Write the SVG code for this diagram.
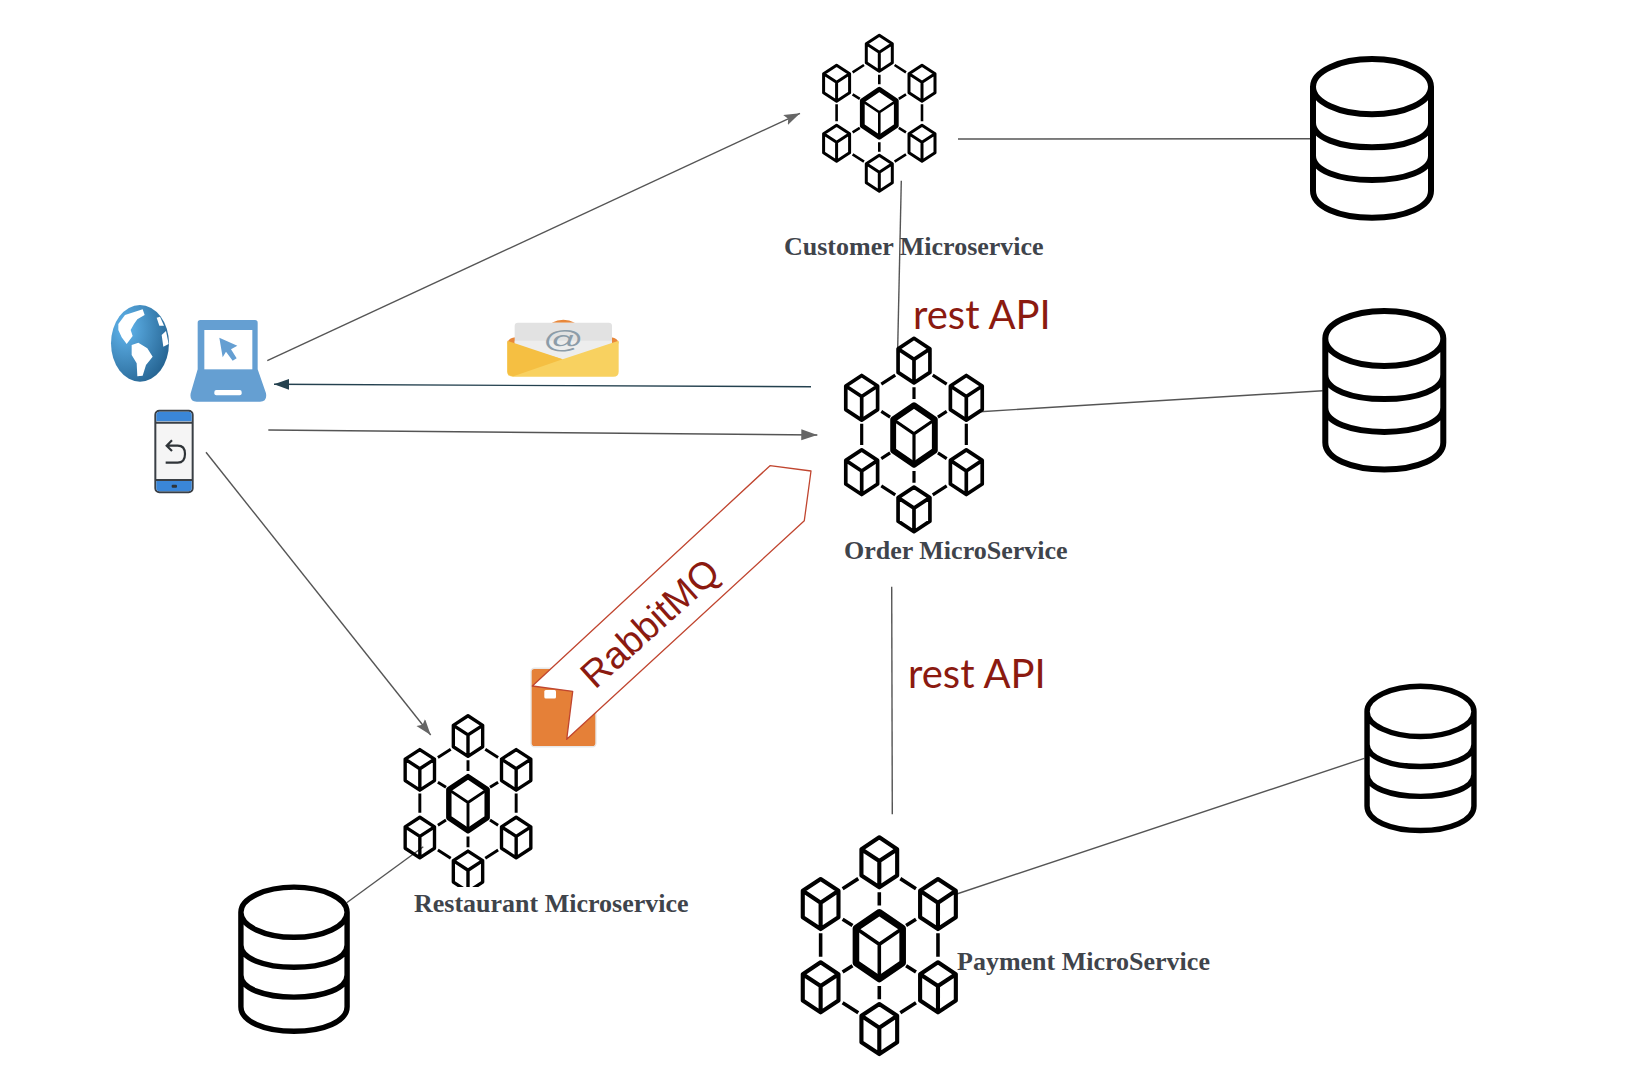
<svg xmlns="http://www.w3.org/2000/svg" width="1648" height="1070" viewBox="0 0 1648 1070">
<style>
.cube{fill:none;stroke:#000;stroke-width:3;stroke-linejoin:round}
.lnk{fill:none;stroke:#000;stroke-width:2.6}
.db{fill:none;stroke:#000;stroke-width:6}
.c{fill:none;stroke:#555;stroke-width:1.4}
.lab{font-family:"Liberation Serif","Times New Roman",serif;font-weight:700;fill:#3f444b}
.api{font-family:Lato,"Open Sans",sans-serif;fill:#8b1a10}
</style>
<defs>
<radialGradient id="gl" cx="0.25" cy="0.3" r="0.85"><stop offset="0" stop-color="#62b6ee"/><stop offset="1" stop-color="#23618f"/></radialGradient>
<marker id="aG" markerUnits="userSpaceOnUse" markerWidth="17" markerHeight="12" refX="16" refY="5.5" orient="auto"><path d="M0 0L16 5.5L0 11z" fill="#666"/></marker>
<marker id="aN" markerUnits="userSpaceOnUse" markerWidth="17" markerHeight="12" refX="16" refY="5.5" orient="auto"><path d="M0 0L16 5.5L0 11L3 5.5z" fill="#666"/></marker>
<marker id="aD" markerUnits="userSpaceOnUse" markerWidth="17" markerHeight="12" refX="15" refY="5.5" orient="auto"><path d="M0 0L15 5.5L0 11z" fill="#24414f"/></marker>
<g id="cube"><path class="cube" d="M0-18L13-9.5V9.5L0 18L-13 9.5V-9.5zM-13-9.5L0-1L13-9.5M0-1V18"/></g>
<g id="ms">
<use href="#cube" y="-60"/><use href="#cube" y="60"/>
<use href="#cube" x="-42.7" y="-30"/><use href="#cube" x="42.7" y="-30"/>
<use href="#cube" x="-42.7" y="30"/><use href="#cube" x="42.7" y="30"/>
<path d="M0-24L17-12.5V12.5L0 24L-17 12.5V-12.5z" fill="none" stroke="#000" stroke-width="4.8" stroke-linejoin="round"/>
<path d="M-17-12.5L0-1L17-12.5M0-1V24" fill="none" stroke="#000" stroke-width="2.6"/>
<path class="lnk" d="M-26.7-41L-15.3-48.3M26.7-41L15.3-48.3M-26.7 41L-15.3 48.3M26.7 41L15.3 48.3M0-38.5V-29M0 38.5V29M-26.7-19L-19.5-14.5M26.7-19L19.5-14.5M-26.7 19L-19.5 14.5M26.7 19L19.5 14.5M-42.7-9V8M42.7-9V8"/>
</g>
<g id="db"><path class="db" d="M-59-52A59 27.6 0 0 1 59-52A59 27.6 0 0 1-59-52V52C-59 68-33 79 0 79C33 79 59 68 59 52V-52M-59-16C-59-1-33 8.6 0 8.6C33 8.6 59-1 59-16M-59 17C-59 32-33 41.4 0 41.4C33 41.4 59 32 59 17"/></g>
<clipPath id="rc"><rect x="380" y="700" width="180" height="187"/></clipPath>
</defs>
<rect width="1648" height="1070" fill="#fff"/>

<g id="connectors">
<path class="c" d="M958 139L1310 138.7"/>
<path class="c" d="M901.3 180.7L897.7 348"/>
<path class="c" d="M980 411.7L1322.7 390.7"/>
<path class="c" d="M891.7 586.7L892.3 814.3"/>
<path class="c" d="M956.7 894L1364.3 758.3"/>
<path class="c" d="M423.3 846.7L346.7 902.7"/>
<path class="c" d="M267.3 360.7L800 113.3" marker-end="url(#aN)"/>
<path d="M811 386.7L274 384.3" fill="none" stroke="#24414f" stroke-width="1.4" marker-end="url(#aD)"/>
<path class="c" d="M268.3 430L817.3 435" marker-end="url(#aG)"/>
<path class="c" d="M206 452.3L430.7 735" marker-end="url(#aN)"/>
</g>

<g id="globe" transform="translate(80 280) scale(.33333)">
<ellipse cx="180" cy="190" rx="87" ry="115" fill="url(#gl)"/>
<path fill="#fff" d="M115 132L135 105L165 95L188 88L194 105L172 118L162 132L152 150L158 168L140 192L125 172L115 150zM155 195L175 188L202 205L218 230L198 255L188 287L172 289L170 250L155 225zM230 113L240 110L252 137L238 137zM245 165L258 153L266 192L250 200z"/>
</g>
<g id="laptop" transform="translate(80 280) scale(.33333)">
<path fill="#659fd2" d="M361 120H525Q533 120 533 128V268L558 340Q562 365 540 365H350Q328 365 332 340L353 268V128Q353 120 361 120z"/>
<rect x="373" y="150" width="144" height="118" fill="#fff"/>
<rect x="403" y="330" width="82" height="16" rx="6" fill="#fff"/>
<path fill="#659fd2" d="M418 173L472 197L453 208L470 235L458 242L438 215L428 232z"/>
</g>
<g id="phone" transform="translate(80 280) scale(.33333)">
<rect x="226" y="392" width="112" height="245" rx="12" fill="#f5f5f5" stroke="#3a3f45" stroke-width="6"/>
<path fill="#3a86d8" d="M229 424V405Q229 395 239 395H325Q335 395 335 405V424zM229 603V624Q229 634 239 634H325Q335 634 335 624V603z"/>
<path d="M228 428H336M228 600H336" stroke="#3a3f45" stroke-width="6"/>
<rect x="275" y="614" width="16" height="9" rx="3" fill="#2f3438"/>
<path d="M262 497H293Q315 497 315 522Q315 548 293 548H257M276 481L260 497L276 513" fill="none" stroke="#2f3438" stroke-width="6.5"/>
</g>
<g id="email" transform="translate(480 300) scale(.33333)">
<path fill="#e8873a" d="M215 68Q250 50 285 68zM82 130Q84 115 106 112V135zM416 130Q414 115 394 112V135z"/>
<rect x="104" y="68" width="292" height="125" rx="10" fill="#e2e2e2"/>
<path fill="#ededed" d="M104 122H396V180H104z"/>
<text transform="translate(250 144) scale(1.2 .7)" font-family="Liberation Sans,Arial,sans-serif" font-size="100" text-anchor="middle" fill="#8c9ca8">@</text>
<path fill="#f8d160" d="M82 128L248 178L416 122V215Q416 230 400 230H98Q82 230 82 215z"/>
<path fill="#f5bf42" d="M82 122L248 178L100 229Q82 228 82 215z"/>
</g>
<g id="rabbitmq">
<rect x="531" y="668.3" width="65" height="78.4" rx="3.5" fill="#e58038" stroke="#e8e8e8" stroke-width="1.4"/>
<rect x="544.3" y="690" width="11.7" height="8.5" rx="1.5" fill="#fff"/>
<polygon points="770,465.7 811,471 804.3,520.7 566.7,739.3 572.7,691.3 532.3,686" fill="#fff" stroke="#c0452f" stroke-width="1.3" stroke-linejoin="round"/>
<text x="595" y="690" transform="rotate(-42 595 690)" font-family="Liberation Sans,Arial,sans-serif" font-size="38" fill="#8b1a10">RabbitMQ</text>
</g>
<g id="customer-ms">
<use href="#ms" transform="translate(879.3 113.3)"/>
<text class="lab" x="784" y="255" font-size="26">Customer Microservice</text>
</g>
<g id="order-ms">
<use href="#ms" transform="translate(914 435) scale(1.225 1.24)"/>
<text class="lab" x="844" y="559" font-size="26">Order MicroService</text>
</g>
<g id="restaurant-ms">
<g clip-path="url(#rc)"><use href="#ms" transform="translate(468 803.7) scale(1.128)"/></g>
<text class="lab" x="414" y="912" font-size="26">Restaurant Microservice</text>
</g>
<g id="payment-ms">
<use href="#ms" transform="translate(879.3 945.7) scale(1.374 1.389)"/>
<text class="lab" x="957" y="970" font-size="26">Payment MicroService</text>
</g>
<g id="db-customer"><use href="#db" transform="translate(1372 138.7)"/></g>
<g id="db-order"><use href="#db" transform="translate(1384.3 390.5)"/></g>
<g id="db-payment"><use href="#db" transform="translate(1420.5 758.7) scale(.906 .91)"/></g>
<g id="db-restaurant"><use href="#db" transform="translate(294 959.5) scale(.9 .909)"/></g>
<g id="labels">
<text class="api" x="913" y="329.3" font-size="40">rest API</text>
<text class="api" x="908" y="688.3" font-size="40">rest API</text>
</g>
</svg>
